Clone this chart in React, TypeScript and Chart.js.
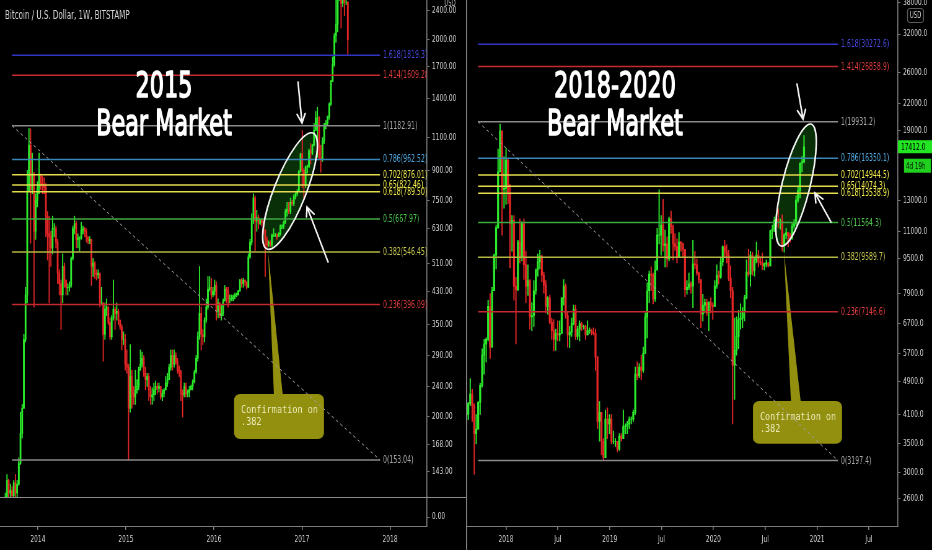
import React, { useEffect, useRef } from 'react';
import { Chart, registerables } from 'chart.js';

Chart.register(...registerables);

/* ---------------- page / panel geometry (CSS px) ---------------- */
const PANEL_W = 466;
const PAGE_H = 550;
const CANVAS_W = 752;               // logical canvas width, squeezed into PANEL_W like the source frame
const SX = PANEL_W / CANVAS_W;
const FONT = "'DejaVu Sans', 'Noto Sans', sans-serif";
const MONO = "'DejaVu Sans Mono', 'Liberation Mono', monospace";
const GREEN = '#2ceb2c';
const RED = '#e62626';
const OLIVE = '#938f0f';
const AXIS_TEXT = '#d2d2d2';
const AXIS_LINE = '#7c7c7c';

/* ---------------- texts ---------------- */
const headerText = 'Bitcoin / U.S. Dollar, 1W, BITSTAMP';
const leftHeadline = ['2015', 'Bear Market'];
const rightHeadline = ['2018-2020', 'Bear Market'];
const calloutLines = ['Confirmation on', '.382'];
const countdownText = '4d 19h';

/* ---------------- axes ---------------- */
const leftPriceTicks = [2400, 2000, 1700, 1400, 1100, 900, 750, 630, 510, 430, 350, 290, 240, 200, 168, 143];
const lowerPaneTicks = [0];
const rightPriceTicks = [38000, 32000, 26000, 22000, 19000, 13000, 11000, 9500, 7900, 6700, 5700, 4900, 4100, 3500, 3000, 2600];
const leftTimeTicks = [2014, 2015, 2016, 2017, 2018];
const leftTimeLabels = ['2014', '2015', '2016', '2017', '2018'];
const rightTimeTicks = [2018, 2018.5, 2019, 2019.5, 2020, 2020.5, 2021, 2021.5];
const rightTimeLabels = ['2018', 'Jul', '2019', 'Jul', '2020', 'Jul', '2021', 'Jul'];
const leftXRange = [2013.57, 2018.42];
const leftYRange = [122, 2552];
const rightXRange = [2017.614, 2021.781];
const rightYRange = [2246, 38450];

/* ---------------- weekly candles, left panel (from 2013-08-19) ---------------- */
const leftStart = [2013, 7, 19];
const leftFirstOpen = 112;
const left2013Close = [122, 135, 125, 127, 123, 133, 125, 132, 150, 180, 210, 320, 420, 790, 1050, 800, 880, 620, 750, 810];
const left2013High = [125, 140, 136, 132, 130, 135, 140, 135, 155, 205, 215, 330, 440, 900, 1163, 1160, 1000, 890, 780, 840];
const left2013Low = [110, 118, 118, 120, 121, 122, 100, 122, 131, 149, 175, 210, 315, 400, 790, 576, 780, 390, 590, 720];
const left2014Close = [870, 830, 820, 810, 680, 610, 600, 560, 630, 630, 580, 480, 450, 420, 500, 460, 440, 440, 445, 525, 630, 650, 590, 595, 595, 625, 630, 620, 595, 585, 590, 500, 510, 480, 475, 480, 400, 400, 330, 385, 390, 355, 325, 365, 385, 375, 380, 360, 345, 320, 320, 275];
const left2014High = [1000, 880, 870, 860, 830, 700, 680, 620, 680, 650, 640, 590, 490, 460, 540, 510, 460, 450, 455, 530, 640, 680, 660, 610, 600, 655, 640, 635, 630, 600, 600, 590, 525, 515, 490, 490, 480, 440, 390, 400, 410, 390, 365, 370, 460, 390, 400, 385, 360, 350, 335, 330];
const left2014Low = [780, 800, 780, 780, 600, 520, 400, 500, 540, 600, 560, 450, 420, 340, 400, 440, 420, 420, 430, 440, 520, 610, 560, 560, 550, 590, 610, 600, 580, 575, 575, 445, 470, 465, 460, 465, 390, 395, 280, 320, 370, 350, 320, 320, 360, 340, 360, 350, 340, 300, 310, 265];
const left2015Close = [270, 210, 255, 230, 225, 235, 240, 265, 275, 285, 260, 250, 255, 235, 225, 228, 235, 240, 237, 240, 225, 230, 235, 245, 250, 270, 290, 275, 290, 280, 265, 262, 230, 228, 240, 230, 232, 235, 240, 247, 262, 285, 325, 375, 330, 325, 360, 390, 435, 440, 420, 430];
const left2015High = [300, 275, 310, 265, 240, 265, 250, 270, 300, 296, 290, 270, 260, 260, 240, 238, 245, 248, 245, 245, 240, 235, 237, 255, 260, 275, 300, 300, 300, 295, 285, 272, 265, 235, 245, 245, 235, 240, 242, 250, 265, 290, 335, 500, 390, 340, 365, 410, 470, 470, 465, 440];
const left2015Low = [260, 153, 205, 210, 215, 215, 230, 235, 265, 270, 255, 235, 240, 220, 215, 215, 220, 228, 230, 232, 222, 220, 225, 235, 240, 250, 265, 265, 270, 275, 260, 255, 220, 199, 225, 225, 225, 225, 235, 235, 245, 260, 280, 320, 300, 310, 315, 355, 385, 430, 410, 415];
const left2016Close = [445, 380, 400, 370, 375, 405, 435, 430, 410, 410, 410, 415, 420, 420, 430, 460, 450, 460, 455, 440, 530, 580, 670, 760, 660, 675, 650, 665, 655, 625, 590, 570, 580, 570, 605, 605, 605, 600, 610, 640, 640, 655, 700, 710, 700, 740, 735, 765, 780, 790, 895, 995];
const left2016High = [460, 455, 410, 400, 395, 410, 445, 440, 440, 420, 420, 420, 425, 425, 432, 462, 465, 465, 460, 455, 540, 590, 690, 780, 770, 705, 685, 670, 670, 660, 625, 600, 585, 585, 610, 630, 612, 610, 615, 645, 645, 660, 710, 740, 740, 760, 750, 775, 785, 800, 900, 1000];
const left2016Low = [420, 360, 365, 365, 360, 370, 405, 400, 390, 400, 405, 405, 410, 415, 420, 430, 440, 440, 445, 435, 440, 525, 570, 650, 550, 620, 630, 645, 640, 610, 470, 560, 565, 565, 565, 600, 600, 590, 600, 605, 630, 630, 650, 680, 690, 690, 725, 725, 755, 770, 790, 890];
const left2017Close = [900, 820, 920, 920, 1015, 1000, 1050, 1150, 1240, 1240, 970, 965, 1080, 1190, 1200, 1250, 1350, 1550, 1720, 2050, 2200, 2550, 2950, 2500, 2550, 2520, 2520, 2000];
const left2017High = [1150, 910, 925, 930, 1025, 1060, 1055, 1200, 1290, 1325, 1250, 1050, 1100, 1200, 1220, 1255, 1360, 1560, 1800, 2080, 2800, 2600, 3000, 3000, 2780, 2650, 2700, 2500];
const left2017Low = [810, 750, 810, 885, 915, 935, 990, 1045, 1150, 975, 960, 890, 950, 1060, 1160, 1185, 1230, 1340, 1560, 1700, 1970, 2100, 2550, 2150, 2450, 2320, 2480, 1830];

/* ---------------- weekly candles, right panel (from 2017-08-14) ---------------- */
const rightStart = [2017, 7, 14];
const rightFirstOpen = 4050;
const right2017Close = [4100, 4350, 4580, 4300, 3700, 3790, 4380, 4800, 5650, 6000, 6150, 7350, 5900, 8000, 9700, 11250, 15200, 18950, 13800, 13900];
const right2017High = [4480, 4380, 4980, 4700, 4350, 4100, 4400, 4850, 5850, 6150, 6200, 7600, 7880, 8150, 9750, 11400, 17200, 19666, 19000, 16500];
const right2017Low = [3950, 3990, 4300, 3950, 2972, 3500, 3850, 4100, 4750, 5100, 5450, 6100, 5550, 6500, 8000, 9000, 11200, 15900, 10800, 12500];
const right2018Close = [16200, 13600, 11500, 11700, 8200, 8050, 10400, 9600, 11500, 9200, 8200, 8450, 6950, 7000, 8000, 8950, 9350, 9650, 8700, 8250, 7350, 7700, 6750, 6450, 6150, 6350, 6300, 6350, 7700, 8200, 7000, 6300, 6400, 6700, 7250, 6250, 6500, 6700, 6600, 6600, 6300, 6450, 6450, 6400, 6350, 5600, 3950, 4150, 3550, 3250, 4000, 3900, 4000];
const right2018High = [17250, 16300, 14200, 12000, 12000, 8600, 10500, 11800, 11600, 11800, 9900, 9200, 8500, 7500, 8450, 9000, 9750, 9950, 9700, 8850, 8450, 7750, 7800, 6900, 6850, 6500, 6800, 6800, 7700, 8500, 8300, 7150, 6600, 6900, 7400, 7400, 6600, 6800, 6750, 6650, 6650, 6800, 6550, 6500, 6550, 6500, 5600, 4400, 4150, 3600, 4200, 4250, 4100];
const right2018Low = [12750, 12800, 9050, 9900, 7600, 6000, 8000, 9300, 9400, 8500, 7500, 7800, 6500, 6450, 6600, 7850, 8650, 9000, 8400, 7900, 7100, 7050, 6700, 6150, 5780, 5800, 6100, 6100, 6350, 7400, 6900, 5900, 5880, 6250, 6650, 6150, 6150, 6100, 6450, 6500, 6150, 6400, 6350, 6300, 6300, 5200, 3800, 3550, 3300, 3200, 3250, 3600, 3700];
const right2019Close = [3550, 3550, 3550, 3400, 3650, 3600, 3850, 3850, 3900, 4000, 4000, 4150, 5100, 5050, 5300, 5200, 5700, 6950, 8000, 8750, 8700, 7650, 8950, 10800, 10800, 11400, 10200, 10300, 9500, 11800, 11300, 10300, 10150, 9600, 10400, 10300, 10000, 8050, 8150, 8300, 8200, 9250, 9200, 8800, 8500, 7050, 7400, 7500, 7100, 7500, 7400, 7350];
const right2019High = [4100, 3750, 3600, 3550, 3700, 3700, 4200, 3900, 3950, 4050, 4050, 4200, 5300, 5450, 5400, 5650, 5900, 7100, 8350, 8900, 9100, 8800, 9400, 11200, 13800, 12000, 13100, 11100, 10700, 11900, 12300, 11400, 10900, 10600, 10950, 10450, 10350, 10000, 8450, 8800, 8400, 10500, 9900, 9500, 8850, 8500, 7850, 7650, 7650, 7550, 7700, 7500];
const right2019Low = [3500, 3500, 3450, 3350, 3380, 3550, 3600, 3700, 3700, 3800, 3900, 3950, 4100, 4950, 5000, 4950, 5150, 5700, 6200, 7500, 8000, 7450, 7550, 8950, 10300, 9700, 9900, 9100, 9100, 9400, 10900, 9450, 9950, 9300, 9800, 9900, 9600, 7750, 7850, 8050, 7900, 7300, 9000, 8700, 8350, 6550, 6800, 7100, 7000, 6450, 7100, 6850];
const right2020Close = [8200, 8700, 8600, 9350, 10150, 9900, 9700, 8550, 8000, 5350, 5800, 6250, 6850, 6900, 7150, 7700, 8850, 8750, 9700, 8900, 9450, 9700, 9350, 9300, 9150, 9250, 9300, 9150, 11050, 11150, 11700, 11750, 11650, 11650, 10250, 10800, 10950, 10750, 10650, 11350, 11500, 13050, 13750, 15950, 16050, 17412];
const right2020High = [8450, 9200, 8900, 9550, 10200, 10500, 10250, 9950, 9150, 8150, 6900, 6950, 7200, 7450, 7300, 7800, 9450, 10000, 9900, 9850, 9600, 10400, 9950, 9600, 9800, 9300, 9450, 9300, 11100, 11400, 11900, 12100, 12450, 11800, 12050, 10900, 11200, 10950, 10900, 11500, 11750, 13350, 14100, 15950, 16500, 18500];
const right2020Low = [7350, 8100, 8300, 8550, 9150, 9600, 9300, 8450, 7700, 3900, 4450, 5650, 5850, 6500, 6550, 6800, 7650, 8650, 8200, 8700, 8650, 9300, 9100, 9200, 8950, 8950, 9100, 9100, 9150, 10600, 11000, 11300, 11250, 11150, 9900, 9850, 10600, 10150, 10400, 10550, 11200, 11400, 12900, 13200, 15200, 15950];

/* ---------------- Fibonacci retracements ---------------- */
const fibRatios = ['1.618', '1.414', '1', '0.786', '0.702', '0.65', '0.618', '0.5', '0.382', '0.236', '0'];
const leftFibValues = [1819.37, 1609.28, 1182.91, 962.52, 876.01, 822.46, 789.5, 667.97, 546.45, 396.09, 153.04];
const rightFibValues = [30272.6, 26858.9, 19931.2, 16350.1, 14944.5, 14074.3, 13538.9, 11564.3, 9589.7, 7146.6, 3197.4];
const leftFibSpan = [2013.706, 2017.886];
const rightFibSpan = [2017.73, 2021.202];
const fibLineColors = ['#3434c4', '#c42a30', '#8a8a8a', '#3b86b8', '#e3dc4c', '#e3dc4c', '#e3dc4c', '#3faa3f', '#b3b643', '#c42a30', '#8a8a8a'];
const fibTextColors = ['#4a4ae0', '#dc3c3c', '#a8a8a8', '#50a8e0', '#f2ec50', '#f2ec50', '#f2ec50', '#4cc44c', '#c8c850', '#dc3c3c', '#a8a8a8'];

/* ---------------- annotations (time, price) ---------------- */
const leftEllipse = { a: [2016.603, 556], b: [2017.125, 1131], r: 16 };
const leftArrows = [[[2016.955, 1545], [2017.0, 1202]], [[2017.296, 514], [2017.057, 719]]];
const leftCallout = { x0: 2016.228, x1: 2017.25, top: 229, bottom: 174, tip: [2016.614, 550], base: [2016.682, 2016.784] };
const rightEllipse = { a: [2020.653, 10184], b: [2020.942, 19680], r: 14 };
const rightArrows = [[[2020.807, 24420], [2020.865, 20220]], [[2021.135, 11590], [2020.98, 13560]]];
const rightCallout = { x0: 2020.382, x1: 2021.241, top: 4413, bottom: 3500, tip: [2020.681, 9860], base: [2020.749, 2020.845] };

/* ================= helpers ================= */
const WEEK_MS = 7 * 86400000;
function yearFrac(ms: number): number {
  const y = new Date(ms).getUTCFullYear();
  const a = Date.UTC(y, 0, 1);
  const b = Date.UTC(y + 1, 0, 1);
  return y + (ms - a) / (b - a);
}

type Candle = { x: number; o: number; h: number; l: number; c: number };
function buildCandles(start: number[], firstOpen: number, closes: number[], highs: number[], lows: number[]): Candle[] {
  const t0 = Date.UTC(start[0], start[1], start[2]);
  let o = firstOpen;
  return closes.map((c, i) => {
    const k = { x: yearFrac(t0 + i * WEEK_MS), o, h: Math.max(highs[i], o, c), l: Math.min(lows[i], o, c), c };
    o = c;
    return k;
  });
}

const leftCandles = buildCandles(
  leftStart, leftFirstOpen,
  [...left2013Close, ...left2014Close, ...left2015Close, ...left2016Close, ...left2017Close],
  [...left2013High, ...left2014High, ...left2015High, ...left2016High, ...left2017High],
  [...left2013Low, ...left2014Low, ...left2015Low, ...left2016Low, ...left2017Low],
);
const rightCandles = buildCandles(
  rightStart, rightFirstOpen,
  [...right2017Close, ...right2018Close, ...right2019Close, ...right2020Close],
  [...right2017High, ...right2018High, ...right2019High, ...right2020High],
  [...right2017Low, ...right2018Low, ...right2019Low, ...right2020Low],
);

function candleDatasets(candles: Candle[], bodyW: number, wickW: number): any[] {
  const colors = candles.map(k => (k.c >= k.o ? GREEN : RED));
  return [
    { type: 'bar', data: candles.map(k => ({ x: k.x, y: [k.l, k.h] })), backgroundColor: colors, barThickness: wickW, grouped: false, order: 5, clip: 0, borderWidth: 0 },
    { type: 'bar', data: candles.map(k => ({ x: k.x, y: [k.o, k.c] })), backgroundColor: colors, barThickness: bodyW, grouped: false, order: 4, clip: 0, borderWidth: 0 },
  ];
}

function fibDatasets(values: number[], span: number[]): any[] {
  const lines = values.map((v, i) => ({
    type: 'line', data: [{ x: span[0], y: v }, { x: span[1], y: v }],
    borderColor: fibLineColors[i], borderWidth: 1.5, pointRadius: 0, order: 2,
  }));
  const diagonal = {
    type: 'line', data: [{ x: span[0], y: values[2] }, { x: span[1], y: values[10] }],
    borderColor: '#a2a2a2', borderWidth: 1, borderDash: [4, 4], pointRadius: 0, order: 1,
  };
  return [...lines, diagonal];
}

function drawText(ctx: any, s: string, x: number, y: number, font: string, color: string, align: string, baseline: string, sx: number = SX, stroke = 0) {
  ctx.save();
  ctx.translate(x, y);
  ctx.scale(sx, 1);
  ctx.font = font;
  ctx.fillStyle = color;
  ctx.textAlign = align;
  ctx.textBaseline = baseline;
  ctx.fillText(s, 0, 0);
  if (stroke > 0) {
    ctx.lineWidth = stroke;
    ctx.strokeStyle = color;
    ctx.lineJoin = 'round';
    ctx.strokeText(s, 0, 0);
  }
  ctx.restore();
}

function arrow(ctx: any, from: number[], to: number[]) {
  const ang = Math.atan2(to[1] - from[1], to[0] - from[0]);
  const L = 10;
  const spread = 0.42;
  ctx.beginPath();
  ctx.moveTo(from[0], from[1]);
  ctx.lineTo(to[0], to[1]);
  ctx.moveTo(to[0] - L * Math.cos(ang - spread), to[1] - L * Math.sin(ang - spread));
  ctx.lineTo(to[0], to[1]);
  ctx.lineTo(to[0] - L * Math.cos(ang + spread), to[1] - L * Math.sin(ang + spread));
  ctx.stroke();
}

interface PanelSpec {
  id: string;
  fibValues: number[];
  fibDigits: number;
  fibSpan: number[];
  ellipse: { a: number[]; b: number[]; r: number };
  arrows: number[][][];
  callout: { x0: number; x1: number; top: number; bottom: number; tip: number[]; base: number[] };
  headline: string[];
  headlineX: number;
  headlineY: number[];
  extra: (chart: any, ctx: any) => void;
}

function overlayPlugin(spec: PanelSpec) {
  const mapper = (chart: any) => {
    const xs = chart.scales.x;
    const ys = chart.scales.y;
    return (x: number, y: number): number[] => [xs.getPixelForValue(x) * SX, ys.getPixelForValue(y)];
  };
  const clipPane = (chart: any, ctx: any) => {
    const xs = chart.scales.x;
    const ys = chart.scales.y;
    ctx.beginPath();
    ctx.rect(xs.left * SX, ys.top, (xs.right - xs.left) * SX, ys.bottom - ys.top);
    ctx.clip();
  };
  const ellipsePath = (ctx: any, P: any) => {
    const a = P(spec.ellipse.a[0], spec.ellipse.a[1]);
    const b = P(spec.ellipse.b[0], spec.ellipse.b[1]);
    ctx.beginPath();
    ctx.ellipse((a[0] + b[0]) / 2, (a[1] + b[1]) / 2, Math.hypot(b[0] - a[0], b[1] - a[1]) / 2, spec.ellipse.r,
      Math.atan2(b[1] - a[1], b[0] - a[0]), 0, Math.PI * 2);
  };
  return {
    id: spec.id,
    beforeDatasetsDraw(chart: any) {
      const ctx = chart.ctx;
      const P = mapper(chart);
      ctx.save();
      ctx.scale(1 / SX, 1);
      clipPane(chart, ctx);
      ellipsePath(ctx, P);
      ctx.fillStyle = 'rgba(20, 105, 20, 0.45)';
      ctx.fill();
      const c = spec.callout;
      const [bx0, by0] = P(c.x0, c.top);
      const [bx1, by1] = P(c.x1, c.bottom);
      const [tx, ty] = P(c.tip[0], c.tip[1]);
      const baseL = P(c.base[0], c.top)[0];
      const baseR = P(c.base[1], c.top)[0];
      ctx.fillStyle = OLIVE;
      ctx.beginPath();
      ctx.moveTo(baseL, by0 + 3);
      ctx.lineTo(tx, ty);
      ctx.lineTo(baseR, by0 + 3);
      ctx.closePath();
      ctx.fill();
      ctx.beginPath();
      ctx.roundRect(bx0, by0, bx1 - bx0, by1 - by0, 6);
      ctx.fill();
      ctx.font = `11px ${MONO}`;
      const fit = (bx1 - bx0 - 13) / ctx.measureText(calloutLines[0]).width;
      calloutLines.forEach((line, i) =>
        drawText(ctx, line, bx0 + 7, by0 + 16 + i * 12.5, `11px ${MONO}`, '#ecebb8', 'left', 'middle', fit));
      ctx.restore();
    },
    afterDatasetsDraw(chart: any) {
      const ctx = chart.ctx;
      const P = mapper(chart);
      ctx.save();
      ctx.scale(1 / SX, 1);
      clipPane(chart, ctx);
      ellipsePath(ctx, P);
      ctx.strokeStyle = '#f4f4f4';
      ctx.lineWidth = 1.6;
      ctx.stroke();
      ctx.lineWidth = 1.6;
      ctx.lineCap = 'round';
      spec.arrows.forEach(([from, to]) => arrow(ctx, P(from[0], from[1]), P(to[0], to[1])));
      spec.fibValues.forEach((v, i) => {
        const [x, y] = P(spec.fibSpan[1], v);
        drawText(ctx, `${fibRatios[i]}(${v.toFixed(spec.fibDigits)})`, x + 3, y + 0.5, `10px ${FONT}`, fibTextColors[i], 'left', 'middle');
      });
      spec.headline.forEach((t, i) =>
        drawText(ctx, t, spec.headlineX, spec.headlineY[i], `36px ${FONT}`, '#ffffff', 'center', 'alphabetic', SX, 1.6));
      ctx.restore();
      ctx.save();
      ctx.scale(1 / SX, 1);
      spec.extra(chart, ctx);
      ctx.restore();
    },
  };
}

function zeroPadding(s: any) {
  s.paddingTop = 0;
  s.paddingBottom = 0;
  s.paddingLeft = 0;
  s.paddingRight = 0;
}

function axisGrid() {
  return { display: true, drawOnChartArea: false, drawTicks: true, tickLength: 4, color: AXIS_LINE, lineWidth: 1 };
}

function priceAxis(tickValues: number[], range: number[], axisWidthCss: number, digits: number, extra: any = {}) {
  return {
    type: 'logarithmic', position: 'right', min: range[0], max: range[1], bounds: 'data',
    grid: axisGrid(),
    border: { display: true, color: AXIS_LINE, width: 1.6 },
    ticks: { color: AXIS_TEXT, font: { family: FONT, size: 9.5 }, padding: 4, autoSkip: false, callback: (v: any) => Number(v).toFixed(digits) },
    afterBuildTicks: (s: any) => { s.ticks = tickValues.map(value => ({ value })); },
    afterFit: (s: any) => { s.width = axisWidthCss / SX; zeroPadding(s); },
    ...extra,
  };
}

function timeAxis(range: number[], tickValues: number[], labels: string[]) {
  return {
    type: 'linear', position: 'bottom', min: range[0], max: range[1], bounds: 'data', offset: false,
    grid: { ...axisGrid(), lineWidth: 1.6, offset: false },
    border: { display: true, color: AXIS_LINE, width: 1 },
    ticks: {
      color: AXIS_TEXT, font: { family: FONT, size: 9.5 }, padding: 4, autoSkip: false, maxRotation: 0, minRotation: 0,
      includeBounds: false, callback: (_v: any, i: number) => labels[i],
    },
    afterBuildTicks: (s: any) => { s.ticks = tickValues.map(value => ({ value })); },
    afterFit: (s: any) => { s.height = 24; zeroPadding(s); },
  };
}

const baseOptions = {
  responsive: false,
  animation: false,
  devicePixelRatio: 1,
  events: [],
  layout: { padding: 0, autoPadding: false },
  plugins: { legend: { display: false }, tooltip: { enabled: false }, title: { display: false } },
};

function leftConfig(): any {
  const spec: PanelSpec = {
    id: 'leftOverlay',
    fibValues: leftFibValues, fibDigits: 2, fibSpan: leftFibSpan,
    ellipse: leftEllipse, arrows: leftArrows, callout: leftCallout,
    headline: leftHeadline, headlineX: 164, headlineY: [97, 135],
    extra: (chart: any, ctx: any) => {
      drawText(ctx, headerText, 5, 18.5, `11.5px ${FONT}`, '#d8d8d8', 'left', 'alphabetic');
      drawText(ctx, 'USD', 450, 3.5, `8.5px ${FONT}`, '#bdbdbd', 'center', 'middle');
      const y = Math.round(chart.scales.y0.top) + 0.5;
      ctx.strokeStyle = '#8a8a8a';
      ctx.lineWidth = 1;
      ctx.beginPath();
      ctx.moveTo(0, y);
      ctx.lineTo(PANEL_W, y);
      ctx.stroke();
    },
  };
  return {
    type: 'bar',
    data: { datasets: [...candleDatasets(leftCandles, 2.2, 1.2), ...fibDatasets(leftFibValues, leftFibSpan)] },
    options: {
      ...baseOptions,
      scales: {
        x: timeAxis(leftXRange, leftTimeTicks, leftTimeLabels),
        y: priceAxis(leftPriceTicks, leftYRange, PANEL_W - 427, 2, { stack: 'leftPane', stackWeight: 497 }),
        y0: {
          type: 'linear', position: 'right', min: -0.45, max: 1, bounds: 'data', stack: 'leftPane', stackWeight: 29,
          grid: axisGrid(),
          border: { display: true, color: AXIS_LINE, width: 1.6 },
          ticks: { color: AXIS_TEXT, font: { family: FONT, size: 9.5 }, padding: 4, autoSkip: false, callback: (v: any) => Number(v).toFixed(2) },
          afterBuildTicks: (s: any) => { s.ticks = lowerPaneTicks.map(value => ({ value })); },
          afterFit: (s: any) => { s.width = (PANEL_W - 427) / SX; zeroPadding(s); },
        },
      },
    },
    plugins: [overlayPlugin(spec)],
  };
}

function rightConfig(): any {
  const spec: PanelSpec = {
    id: 'rightOverlay',
    fibValues: rightFibValues, fibDigits: 1, fibSpan: rightFibSpan,
    ellipse: rightEllipse, arrows: rightArrows, callout: rightCallout,
    headline: rightHeadline, headlineX: 149, headlineY: [97, 135],
    extra: (chart: any, ctx: any) => {
      ctx.strokeStyle = '#8a8a8a';
      ctx.lineWidth = 1;
      ctx.beginPath();
      ctx.moveTo(0.5, 0);
      ctx.lineTo(0.5, PAGE_H);
      ctx.stroke();
      ctx.strokeStyle = '#5c5c5c';
      ctx.beginPath();
      ctx.roundRect(441.5, 8.5, 16, 14, 2.5);
      ctx.stroke();
      drawText(ctx, 'USD', 449.5, 15.5, `8.5px ${FONT}`, '#d0d0d0', 'center', 'middle');
      const ys = chart.scales.y;
      const last = rightCandles[rightCandles.length - 1].c;
      const y = ys.getPixelForValue(last);
      const x = ys.left * SX;
      ctx.fillStyle = '#22e622';
      ctx.fillRect(x, y - 6.5, PANEL_W - x, 13);
      drawText(ctx, last.toFixed(1), x + 3, y + 0.5, `9.5px ${FONT}`, '#000000', 'left', 'middle');
      ctx.fillStyle = '#1fd01f';
      ctx.fillRect(x + 6, y + 12, PANEL_W - x - 7, 14);
      drawText(ctx, countdownText, x + 8, y + 19.5, `9px ${FONT}`, '#0a0a0a', 'left', 'middle');
    },
  };
  return {
    type: 'bar',
    data: { datasets: [...candleDatasets(rightCandles, 2.6, 1.3), ...fibDatasets(rightFibValues, rightFibSpan)] },
    options: {
      ...baseOptions,
      scales: {
        x: timeAxis(rightXRange, rightTimeTicks, rightTimeLabels),
        y: priceAxis(rightPriceTicks, rightYRange, PANEL_W - 432, 1),
      },
    },
    plugins: [overlayPlugin(spec)],
  };
}

export default function App() {
  const leftRef = useRef<HTMLCanvasElement | null>(null);
  const rightRef = useRef<HTMLCanvasElement | null>(null);

  useEffect(() => {
    const a = new Chart(leftRef.current as HTMLCanvasElement, leftConfig());
    const b = new Chart(rightRef.current as HTMLCanvasElement, rightConfig());
    return () => {
      a.destroy();
      b.destroy();
    };
  }, []);

  const canvasStyle = (left: number): React.CSSProperties => ({
    position: 'absolute', left, top: 0, width: `${PANEL_W}px`, height: `${PAGE_H}px`,
  });

  return (
    <div style={{ position: 'fixed', left: 0, top: 0, width: PANEL_W * 2, height: PAGE_H, background: '#000', overflow: 'hidden' }}>
      <canvas ref={leftRef} width={CANVAS_W} height={PAGE_H} style={canvasStyle(0)} />
      <canvas ref={rightRef} width={CANVAS_W} height={PAGE_H} style={canvasStyle(PANEL_W)} />
    </div>
  );
}
